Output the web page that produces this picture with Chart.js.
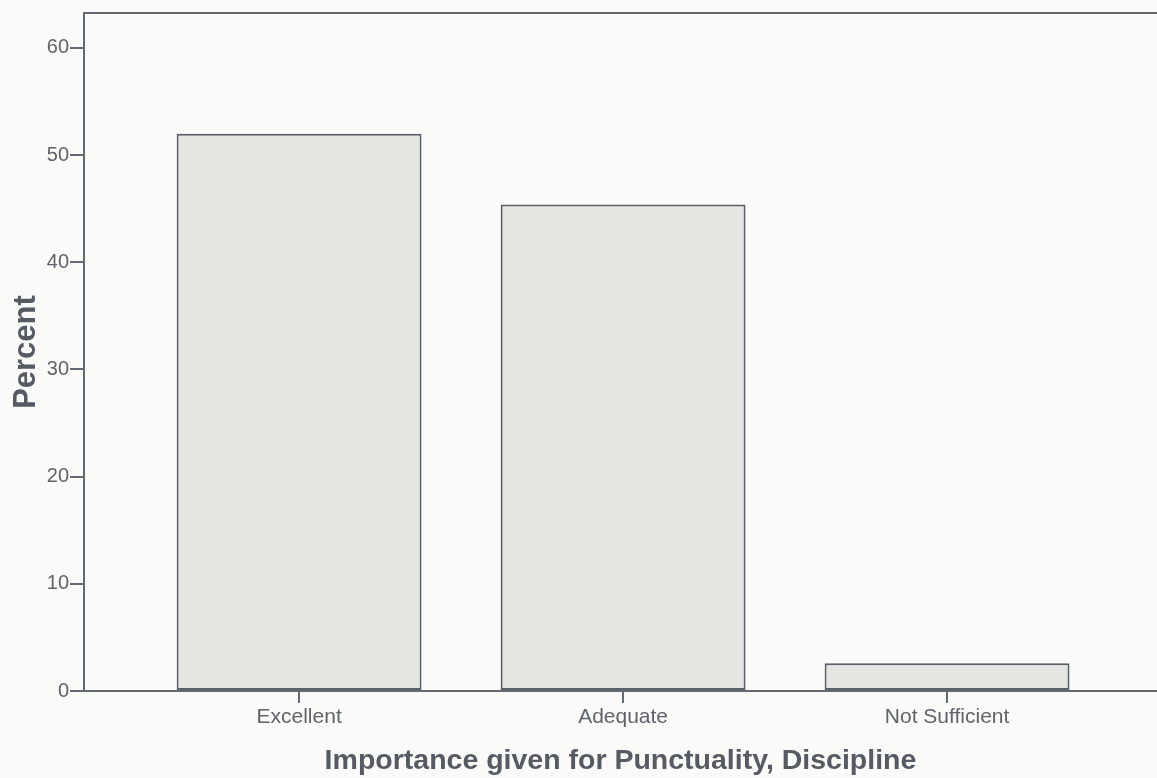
<!DOCTYPE html>
<html>
<head>
<meta charset="utf-8">
<script src="https://cdn.jsdelivr.net/npm/chart.js@4/dist/chart.umd.min.js"></script>
<style>
  html, body { margin: 0; padding: 0; background: #fafaf8; }
  #wrap { width: 1157px; height: 778px; position: relative; }
</style>
</head>
<body>
<div id="wrap"><canvas id="c" width="1157" height="778"></canvas></div>
<script>
const categories = ["Excellent", "Adequate", "Not Sufficient"];
const percentValues = [52.0, 45.4, 2.6];
const yTicks = [0, 10, 20, 30, 40, 50, 60];
const xTitle = "Importance given for Punctuality, Discipline";
const yTitle = "Percent";

const axisColor = "#646a73";
const textColor = "#5f646b";

const frameTop = {
  id: "frameTop",
  afterDraw(chart) {
    const { ctx, chartArea } = chart;
    ctx.save();
    ctx.strokeStyle = axisColor;
    ctx.lineWidth = 2;
    ctx.beginPath();
    ctx.moveTo(chartArea.left, chartArea.top);
    ctx.lineTo(chartArea.right, chartArea.top);
    ctx.stroke();
    ctx.restore();
  }
};

new Chart(document.getElementById("c"), {
  type: "bar",
  data: {
    datasets: [{
      data: categories.map((c, i) => ({ x: i + 1, y: percentValues[i] })),
      backgroundColor: "#e5e5e2",
      borderColor: "#5a6068",
      borderWidth: 2,
      borderSkipped: false,
      barPercentage: 0.756,
      categoryPercentage: 1.0
    }]
  },
  options: {
    responsive: false,
    animation: false,
    layout: { padding: { top: 12, right: 0, bottom: 0, left: 0 } },
    plugins: { legend: { display: false }, tooltip: { enabled: false } },
    scales: {
      x: {
        type: "linear",
        offset: false,
        min: 0.336,
        max: 3.648,
        afterBuildTicks(scale) {
          scale.ticks = categories.map((c, i) => ({ value: i + 1 }));
        },
        afterFit(scale) { scale.height = 87; },
        ticks: {
          autoSkip: false,
          maxRotation: 0,
          padding: 2,
          color: textColor,
          font: { family: "Liberation Sans, Arial, sans-serif", size: 21 },
          callback: (v) => categories[Math.round(v) - 1] || ""
        },
        grid: { display: true, offset: false, drawOnChartArea: false, drawTicks: true, tickLength: 12, color: axisColor, lineWidth: 2 },
        border: { display: true, color: axisColor, width: 2 },
        title: {
          display: true,
          text: xTitle,
          color: "#565b63",
          font: { family: "Liberation Sans, Arial, sans-serif", size: 28.5, weight: "bold" },
          padding: { top: 6, bottom: 0 }
        }
      },
      y: {
        min: 0,
        max: 63.26,
        afterBuildTicks(scale) {
          scale.ticks = yTicks.map(v => ({ value: v }));
        },
        afterFit(scale) { scale.width = 84; },
        ticks: {
          padding: 1,
          color: textColor,
          font: { family: "Liberation Sans, Arial, sans-serif", size: 20 }
        },
        grid: { display: true, drawOnChartArea: false, drawTicks: true, tickLength: 14, color: axisColor, lineWidth: 2 },
        border: { display: true, color: axisColor, width: 2 },
        title: {
          display: true,
          text: yTitle,
          color: "#565b63",
          font: { family: "Liberation Sans, Arial, sans-serif", size: 31, weight: "bold" },
          padding: { top: 8, bottom: 0 }
        }
      }
    }
  },
  plugins: [frameTop]
});
</script>
</body>
</html>
